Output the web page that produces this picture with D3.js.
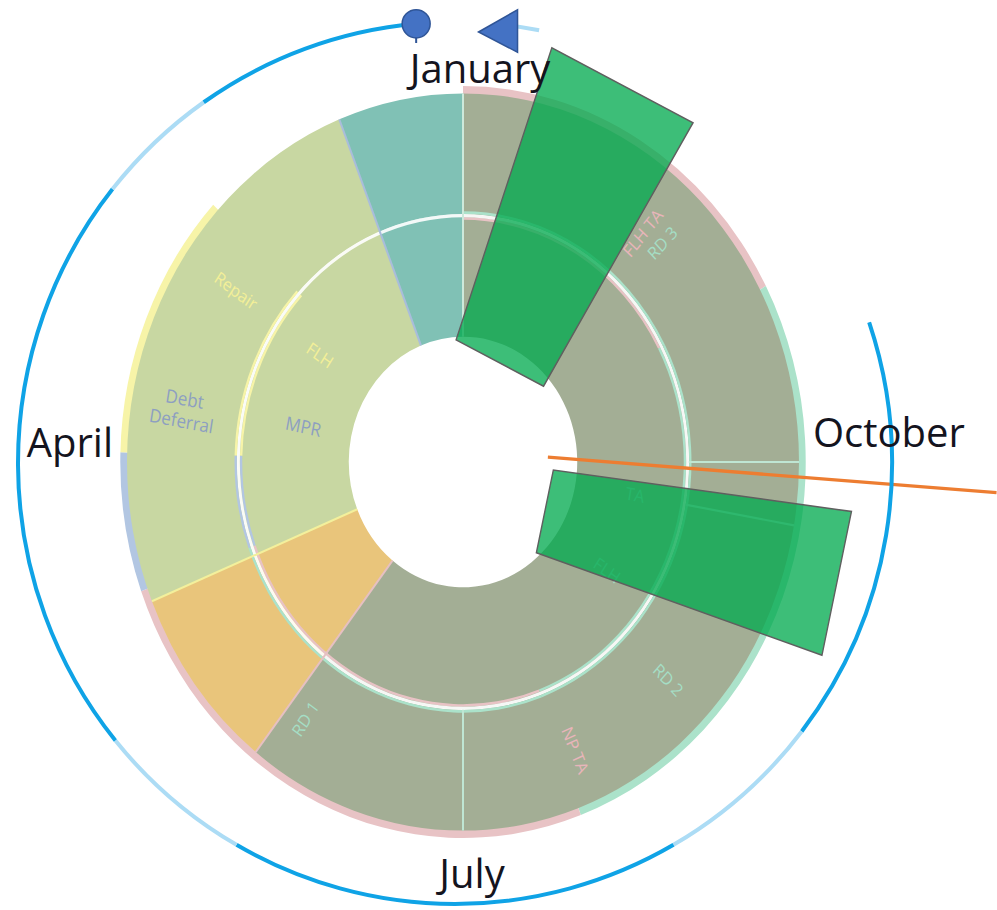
<!DOCTYPE html>
<html>
<head>
<meta charset="utf-8">
<script src="https://cdn.jsdelivr.net/npm/d3@7"></script>
<style>
body { margin: 0; background: #fff; }
</style>
</head>
<body>
<script>
var width = 997;
var height = 910;

// months are counted anticlockwise from January at the top
var innerKeys = ["teal", "sage", "amber", "olive"];
var innerFrom = [0, 0.72, 3.74, 4.73];
var innerTo   = [0.72, 3.74, 4.73, 12];

var outerKeys = ["teal", "sage", "amber", "olive", "olive", "olive", "olive"];
var outerFrom = [0, 0.72, 3.74, 4.73, 6, 8.67, 9];
var outerTo   = [0.72, 3.74, 4.73, 6, 8.67, 9, 12];

// thin coloured rims showing round the outer ring
var rimKeys = ["pink", "mint", "pink", "slate", "yellow"];
var rimFrom = [9.93, 6.67, 3.67, 2.95, 1.56];
var rimTo   = [12, 9.93, 6.67, 3.67, 2.95];

var labelText  = ["Repair", "Debt\nDeferral", "FLH", "MPR", "FLH TA", "RD 3", "TA", "FLH", "RD 2", "NP TA", "RD 1"];
var labelMonth = [1.85, 2.68, 1.86, 2.62, 10.64, 10.50, 8.67, 7.85, 7.53, 6.77, 4.87];
var labelLevel = [0.82, 0.845, 0.515, 0.485, 0.82, 0.84, 0.52, 0.52, 0.85, 0.85, 0.84];
var labelKey   = ["yellow", "slate", "yellow", "slate", "pink", "mint", "mint", "mint", "mint", "pink", "mint"];

// the two green bars: month and level at each end, width at each end
var barInMonth  = [11.26, 8.04];
var barOutMonth = [11.17, 8.45];
var barInLevel  = [0.29, 0.278];
var barOutLevel = [1.127, 1.16];
var barInWidth  = [0.289, 0.23];
var barOutWidth = [0.467, 0.40];

var pointerMonth = [9.10, 8.90];
var pointerLevel = [0.253, 1.59];

// outer blue track
var trackFrom = [7.75, 7.0, 5.0, 4.3, 1.72, 1.17, 0.17, 11.63];
var trackTo   = [9.62, 7.75, 7.0, 5.0, 4.3, 1.72, 1.17, 11.77];
var trackTone = ["bright", "light", "bright", "light", "bright", "light", "bright", "light"];
var startMonth = 0.17;
var endMonth = 11.78;

var monthNames = ["January", "April", "July", "October"];
var monthAt    = [0, 3, 6, 9];

var palette = {
    teal: "#80c1b5", sage: "#c8d7a2", amber: "#e9c57b", olive: "#a3ae95",
    pink: "#e8c3c5", mint: "#abe2ca", slate: "#b2c6e2", yellow: "#f7f4a8"
};
var inkPalette = { yellow: "#f3ef98", slate: "#8d9fc1", pink: "#e8b5ba", mint: "#a5dec5" };
var edgeTone = { 0: "#cde9db", 0.72: "#a9bddb", 3.74: "#f3f09c", 4.73: "#e6c0c2", 6: "#bfe6d3", 8.67: "#bfe6d3", 9: "#bfe6d3" };

var cx = 463, cy = 462, stretch = 1.097;

var svg = d3.select("body")
    .append("svg")
    .attr("width", width)
    .attr("height", height);

var angle = d3.scaleLinear().domain([0, 12]).range([2 * Math.PI, 0]);
var radius = d3.scaleLinear().domain([0, 1]).range([0, 336]);

function polar(m, level) {
    var a = angle(m), r = radius(level);
    return [r * Math.sin(a), -r * Math.cos(a)];
}

var ring = svg.append("g")
    .attr("transform", "translate(" + cx + "," + cy + ") scale(1," + stretch + ")");

var arc = d3.arc();

function band(from, to, r0, r1) {
    return arc({ startAngle: angle(to), endAngle: angle(from), innerRadius: radius(r0), outerRadius: radius(r1) });
}

// rims first so the ring sits on them
ring.selectAll("path.rim")
    .data(d3.range(rimKeys.length))
    .enter()
    .append("path")
    .attr("class", "rim")
    .attr("d", function(i) { return band(rimFrom[i], rimTo[i], 0.995, 1.02); })
    .attr("fill", function(i) { return palette[rimKeys[i]]; });

ring.selectAll("path.inner")
    .data(d3.range(innerKeys.length))
    .enter()
    .append("path")
    .attr("class", "inner")
    .attr("d", function(i) { return band(innerFrom[i], innerTo[i], 0.34, 0.672); })
    .attr("fill", function(i) { return palette[innerKeys[i]]; });

ring.selectAll("path.outer")
    .data(d3.range(outerKeys.length))
    .enter()
    .append("path")
    .attr("class", "outer")
    .attr("d", function(i) { return band(outerFrom[i], outerTo[i], 0.672, 1.0); })
    .attr("fill", function(i) { return palette[outerKeys[i]]; });

// ring separator: coloured hairlines either side of a white line
ring.selectAll("path.sepIn")
    .data(d3.range(rimKeys.length))
    .enter()
    .append("path")
    .attr("d", function(i) { return band(rimFrom[i], rimTo[i], 0.657, 0.664); })
    .attr("fill", function(i) { return palette[rimKeys[i]]; });
ring.append("path")
    .attr("d", band(0, 12, 0.664, 0.673))
    .attr("fill", "#ffffff")
    .attr("opacity", 0.9);
ring.selectAll("path.sepOut")
    .data(d3.range(rimKeys.length))
    .enter()
    .append("path")
    .attr("d", function(i) { return band(rimFrom[i], rimTo[i], 0.673, 0.68); })
    .attr("fill", function(i) { return rimKeys[i] == "pink" ? palette.mint : palette[rimKeys[i]]; });

// segment edges
ring.selectAll("line.edge")
    .data(outerFrom)
    .enter()
    .append("line")
    .attr("x1", function(m) { return polar(m, innerFrom.indexOf(m) >= 0 ? 0.34 : 0.672)[0]; })
    .attr("y1", function(m) { return polar(m, innerFrom.indexOf(m) >= 0 ? 0.34 : 0.672)[1]; })
    .attr("x2", function(m) { return polar(m, 1.0)[0]; })
    .attr("y2", function(m) { return polar(m, 1.0)[1]; })
    .attr("stroke", function(m) { return edgeTone[m]; })
    .attr("stroke-width", 2);

// labels inside the ring, read along the radius
ring.selectAll("text.seg")
    .data(d3.range(labelText.length))
    .enter()
    .append("text")
    .attr("class", "seg")
    .attr("transform", function(i) {
        var p = polar(labelMonth[i], labelLevel[i]);
        var deg = (angle(labelMonth[i]) * 180 / Math.PI) % 360;
        var rot = deg < 180 ? deg - 90 : deg - 270;
        return "translate(" + p[0] + "," + p[1] + ") rotate(" + rot + ")";
    })
    .attr("text-anchor", "middle")
    .attr("font-family", "'Open Sans', sans-serif")
    .attr("font-size", function(i) { return labelKey[i] == "slate" ? "17px" : "16px"; })
    .attr("fill", function(i) { return inkPalette[labelKey[i]]; })
    .each(function(i) {
        var lines = labelText[i].split("\n");
        var t = d3.select(this);
        lines.forEach(function(s, k) {
            t.append("tspan")
                .attr("x", 0)
                .attr("dy", k == 0 ? (0.35 - (lines.length - 1) * 0.6) + "em" : "1.2em")
                .text(s);
        });
    });

// green bars
var quad = d3.line().curve(d3.curveLinearClosed);
ring.selectAll("path.bar")
    .data(d3.range(barInMonth.length))
    .enter()
    .append("path")
    .attr("class", "bar")
    .attr("d", function(i) {
        var p0 = polar(barInMonth[i], barInLevel[i]);
        var p1 = polar(barOutMonth[i], barOutLevel[i]);
        var dx = p1[0] - p0[0], dy = p1[1] - p0[1];
        var len = Math.sqrt(dx * dx + dy * dy);
        var nx = -dy / len, ny = dx / len;
        var w0 = radius(barInWidth[i]) / 2, w1 = radius(barOutWidth[i]) / 2;
        return quad([
            [p0[0] + nx * w0, p0[1] + ny * w0],
            [p1[0] + nx * w1, p1[1] + ny * w1],
            [p1[0] - nx * w1, p1[1] - ny * w1],
            [p0[0] - nx * w0, p0[1] - ny * w0]
        ]);
    })
    .attr("fill", "#00aa4d")
    .attr("fill-opacity", 0.76)
    .attr("stroke", "#5f5f5f")
    .attr("stroke-width", 1.4);

// orange pointer
ring.append("line")
    .attr("x1", polar(pointerMonth[0], pointerLevel[0])[0])
    .attr("y1", polar(pointerMonth[0], pointerLevel[0])[1])
    .attr("x2", polar(pointerMonth[1], pointerLevel[1])[0])
    .attr("y2", polar(pointerMonth[1], pointerLevel[1])[1])
    .attr("stroke", "#ed7d31")
    .attr("stroke-width", 3);

// blue track round the outside
var tx = 455, ty = 463, trackR = 437;
var track = svg.append("g")
    .attr("transform", "translate(" + tx + "," + ty + ") scale(1,1.009)");

var trackArc = d3.arc().innerRadius(trackR).outerRadius(trackR);
track.selectAll("path.track")
    .data(d3.range(trackFrom.length))
    .enter()
    .append("path")
    .attr("d", function(i) { return trackArc({ startAngle: angle(trackTo[i]), endAngle: angle(trackFrom[i]) }); })
    .attr("fill", "none")
    .attr("stroke", function(i) { return trackTone[i] == "bright" ? "#0fa3e6" : "#acdcf5"; })
    .attr("stroke-width", 4)
    .attr("stroke-linecap", "round");

function onTrack(m, r) {
    var a = angle(m);
    return [r * Math.sin(a), -r * Math.cos(a)];
}

var sp = onTrack(startMonth, trackR);
track.append("line")
    .attr("x1", sp[0]).attr("y1", sp[1] + 12)
    .attr("x2", sp[0]).attr("y2", sp[1] + 19)
    .attr("stroke", "#2f5597")
    .attr("stroke-width", 2);
track.append("circle")
    .attr("cx", sp[0])
    .attr("cy", sp[1])
    .attr("r", 14)
    .attr("fill", "#4472c4")
    .attr("stroke", "#2f5597")
    .attr("stroke-width", 1.5);

var ep = onTrack(endMonth, trackR - 6);
track.append("path")
    .attr("transform", "translate(" + ep[0] + "," + ep[1] + ")")
    .attr("d", "M-26,1L13,-21L13,21Z")
    .attr("fill", "#4472c4")
    .attr("stroke", "#2f5597")
    .attr("stroke-width", 1.5);

// month names
svg.selectAll("text.month")
    .data(d3.range(monthNames.length))
    .enter()
    .append("text")
    .attr("class", "month")
    .attr("x", function(i) {
        var a = angle(monthAt[i]), s = Math.sin(a), c = Math.cos(a);
        if (Math.abs(s) > 0.5) return cx + 350 * s;
        return cx + (c > 0 ? 17 : 9);
    })
    .attr("y", function(i) {
        var a = angle(monthAt[i]), s = Math.sin(a), c = Math.cos(a);
        if (c > 0.5) return cy - 379;
        if (c < -0.5) return cy + 426;
        return s < 0 ? cy - 5 : cy - 15;
    })
    .attr("text-anchor", function(i) {
        var s = Math.sin(angle(monthAt[i]));
        if (s > 0.5) return "start";
        if (s < -0.5) return "end";
        return "middle";
    })
    .attr("font-family", "'Open Sans', sans-serif")
    .attr("font-size", "40px")
    .attr("fill", "#14141e")
    .text(function(i) { return monthNames[i]; });
</script>
</body>
</html>
